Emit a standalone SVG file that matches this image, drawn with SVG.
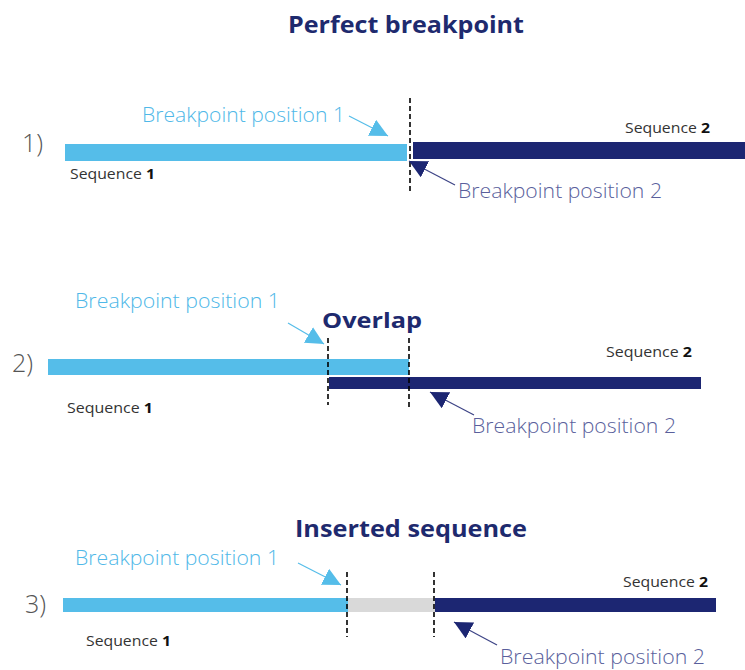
<svg xmlns="http://www.w3.org/2000/svg" width="745" height="670" viewBox="0 0 745 670">
<style>
text{font-family:"Open Sans","Liberation Sans",sans-serif}
.title{font-size:24px;font-weight:bold;fill:#1e2a6e}
.bp1{font-size:20px;fill:#4fb8e8;font-weight:300}
.bp2{font-size:20px;fill:#5a5f9c;font-weight:300}
.seq{font-size:14px;fill:#333}
.seq tspan{font-weight:bold;fill:#111}
.num{font-size:25px;fill:#555;font-weight:300}
.light{fill:#55bde9}
.dark{fill:#1c2672}
.gray{fill:#d9d9d9}
.dash{stroke:#000;stroke-width:1.6;stroke-dasharray:5,3;fill:none}
.a1{stroke:#55bde9;stroke-width:1.2;fill:none}
.a2{stroke:#3d4486;stroke-width:1.2;fill:none}
</style>
<defs>
<marker id="h1" markerUnits="userSpaceOnUse" markerWidth="20" markerHeight="18" refX="18" refY="9" orient="auto"><path d="M0,0 L18,9 L0,18 z" fill="#55bde9"/></marker>
<marker id="h2" markerUnits="userSpaceOnUse" markerWidth="20" markerHeight="18" refX="18" refY="9" orient="auto"><path d="M0,0 L18,9 L0,18 z" fill="#1c2672"/></marker>
</defs>
<rect width="745" height="670" fill="#fff"/>

<g id="title1"><text class="title" x="406" y="33" text-anchor="middle" textLength="236" lengthAdjust="spacingAndGlyphs">Perfect breakpoint</text></g>
<g id="panel1">
<text class="num" x="22" y="152">1)</text>
<rect class="light" x="65" y="144" width="342" height="17"/>
<rect class="dark" x="413" y="142" width="332" height="17"/>
<line class="dash" x1="410" y1="98" x2="410" y2="193"/>
<text class="bp1" x="142" y="122" textLength="203" lengthAdjust="spacingAndGlyphs">Breakpoint position 1</text>
<text class="seq" x="625" y="133" textLength="85" lengthAdjust="spacingAndGlyphs">Sequence <tspan>2</tspan></text>
<text class="seq" x="70" y="179" textLength="85" lengthAdjust="spacingAndGlyphs">Sequence <tspan>1</tspan></text>
<text class="bp2" x="458" y="198" textLength="204" lengthAdjust="spacingAndGlyphs">Breakpoint position 2</text>
</g>

<g id="panel2">
<text class="num" x="12" y="372">2)</text>
<rect class="light" x="48" y="359" width="361" height="16"/>
<rect class="dark" x="329" y="377" width="372" height="12"/>
<line class="dash" x1="328" y1="338" x2="328" y2="405"/>
<line class="dash" x1="409" y1="338" x2="409" y2="407"/>
<text class="title" x="322" y="328" style="font-size:22px" textLength="100" lengthAdjust="spacingAndGlyphs">Overlap</text>
<text class="bp1" x="75" y="308" textLength="205" lengthAdjust="spacingAndGlyphs">Breakpoint position 1</text>
<text class="seq" x="606" y="357" textLength="86" lengthAdjust="spacingAndGlyphs">Sequence <tspan>2</tspan></text>
<text class="seq" x="67" y="413" textLength="86" lengthAdjust="spacingAndGlyphs">Sequence <tspan>1</tspan></text>
<text class="bp2" x="472" y="433" textLength="204" lengthAdjust="spacingAndGlyphs">Breakpoint position 2</text>
</g>

<g id="title3"><text class="title" x="411" y="537" text-anchor="middle" textLength="232" lengthAdjust="spacingAndGlyphs">Inserted sequence</text></g>
<g id="panel3">
<text class="num" x="25" y="613">3)</text>
<rect class="light" x="63" y="598" width="285" height="14"/>
<rect class="gray" x="348" y="598" width="87" height="14"/>
<rect class="dark" x="435" y="598" width="281" height="14"/>
<line class="dash" x1="347" y1="572" x2="347" y2="637"/>
<line class="dash" x1="434" y1="572" x2="434" y2="637"/>
<text class="bp1" x="75" y="565" textLength="204" lengthAdjust="spacingAndGlyphs">Breakpoint position 1</text>
<text class="seq" x="623" y="587" textLength="85" lengthAdjust="spacingAndGlyphs">Sequence <tspan>2</tspan></text>
<text class="seq" x="86" y="646" textLength="85" lengthAdjust="spacingAndGlyphs">Sequence <tspan>1</tspan></text>
<text class="bp2" x="500" y="664" textLength="205" lengthAdjust="spacingAndGlyphs">Breakpoint position 2</text>
</g>

<g id="connectors">
<line class="a1" x1="349" y1="116" x2="388" y2="136" marker-end="url(#h1)"/>
<line class="a2" x1="455" y1="185" x2="409" y2="161" marker-end="url(#h2)"/>
<line class="a1" x1="288" y1="323" x2="324" y2="344" marker-end="url(#h1)"/>
<line class="a2" x1="474" y1="415" x2="430" y2="392" marker-end="url(#h2)"/>
<line class="a1" x1="298" y1="563" x2="341" y2="585" marker-end="url(#h1)"/>
<line class="a2" x1="497" y1="645" x2="454" y2="622" marker-end="url(#h2)"/>
</g>
</svg>
